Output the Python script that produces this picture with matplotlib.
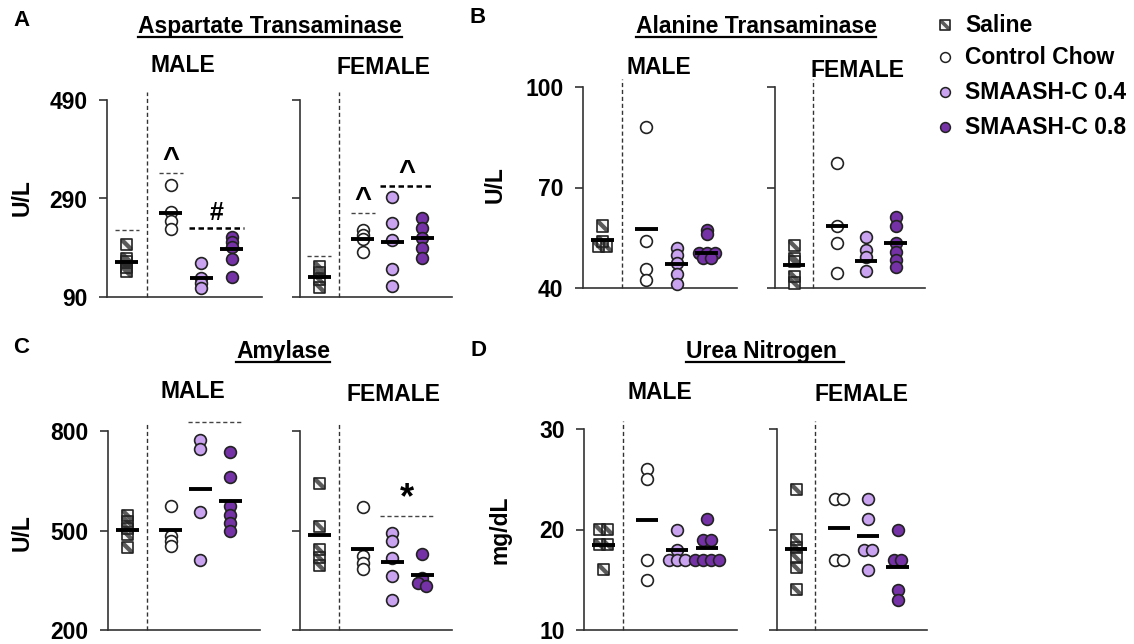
import numpy as np
import matplotlib
matplotlib.use("Agg")
import matplotlib.pyplot as plt
from matplotlib.path import Path

W, H = 1134, 644

plt.rcParams["font.family"] = ["Liberation Sans", "DejaVu Sans"]
plt.rcParams["font.weight"] = "bold"

groups = ["Saline", "Control Chow", "SMAASH-C 0.4", "SMAASH-C 0.8"]
colors = ["white", "white", "#c9a2f0", "#7432a6"]

# Aspartate Transaminase (U/L)
ast_male = [[196, 169, 161, 151, 141], [317, 262, 245, 228],
            [159, 128, 118, 108], [212, 202, 192, 167, 131]]
ast_male_mean = [161, 260, 128, 187]
ast_female = [[151, 139, 125, 110], [226, 215, 208, 182],
              [293, 240, 206, 147, 112], [250, 230, 210, 189, 169]]
ast_female_mean = [131, 208, 202, 210]

# Alanine Transaminase (U/L)
alt_male = [[58.5, 54, 52.4, 52.4], [88, 54, 45.6, 42.3],
            [52, 50, 47.4, 44.3, 41.2], [57.3, 56.2, 50.5, 50.5, 50.5, 49, 49]]
alt_male_mean = [54.2, 57.6, 47.1, 50.4]
alt_female = [[52.6, 48.9, 47.9, 43.4, 41.5], [77.4, 58.4, 53.3, 44.4],
              [55.2, 51.3, 49.3, 45.2], [61.3, 58.4, 53.3, 50.8, 48.4, 46.2]]
alt_female_mean = [46.9, 58.4, 48.1, 53.3]

# Amylase (U/L)
amy_male = [[546, 528, 507, 487, 448], [573, 483, 469, 454],
            [773, 746, 555, 412], [737, 660, 573, 546, 522, 498]]
amy_male_mean = [501, 501, 624, 588]
amy_female = [[642, 513, 442, 418, 394], [570, 424, 403, 385],
              [493, 469, 418, 364, 290], [430, 358, 343, 334]]
amy_female_mean = [487, 445, 406, 367]

# Urea Nitrogen (mg/dL)
bun_male = [[20, 20, 18.5, 18.5, 16], [26, 25, 17, 15],
            [20, 18, 17, 17, 17], [21, 19, 19, 17, 17, 17, 17]]
bun_male_mean = [18.5, 20.9, 18.0, 18.2]
bun_female = [[24, 19, 18.2, 17.2, 16.2, 14], [23, 23, 17, 17],
              [23, 21, 18, 18, 16], [20, 17, 17, 14, 13]]
bun_female_mean = [18.1, 20.1, 19.4, 16.3]

# significance bars: (first group, last group, level, symbol)
ast_male_sig = [(0, 0, 226, ""), (1, 1, 342, "^"), (2, 3, 230, "#")]
ast_female_sig = [(0, 0, 173, ""), (1, 1, 260, "^"), (2, 3, 315, "^")]
amy_male_sig = [(2, 3, 827, "")]
amy_female_sig = [(2, 3, 543, "*")]

xpos = [0.65, 2.1, 3.1, 4.1]
XMAX = 5.1

band = Path([(-1, 1), (-0.45, 1), (1, -0.45), (1, -1), (0.45, -1), (-1, 0.45), (-1, 1)],
            [Path.MOVETO] + [Path.LINETO] * 5 + [Path.CLOSEPOLY])


def saline_marker(ax, xs, ys, s=64, z=3):
    ax.scatter(xs, ys, s=s, marker="s", facecolor="#f4f4f4", edgecolor="none", zorder=z, clip_on=False)
    ax.scatter(xs, ys, s=s, marker=band, facecolor="#5a5a5a", edgecolor="none", zorder=z, clip_on=False)
    ax.scatter(xs, ys, s=s, marker="s", facecolor="none", edgecolor="#222222", linewidths=1.2,
               zorder=z, clip_on=False)


def swarm(vals, center, ppu, step=0.26):
    vals = np.asarray(vals, float)
    order = np.argsort(-vals)
    xs = np.full(len(vals), center)
    clusters = []
    for i in order:
        if clusters and abs(vals[clusters[-1][-1]] - vals[i]) * ppu < 3:
            clusters[-1].append(i)
        else:
            clusters.append([i])
    for c in clusters:
        n = len(c)
        for k, i in enumerate(c):
            xs[i] = center + (k - (n - 1) / 2) * step
    return xs


def add_ax(l, t, r, b):
    return fig.add_axes([l / W, 1 - b / H, (r - l) / W, (b - t) / H])


def draw_panel(ax, data, means, ylim, labels, sig=(), bold_span=False):
    ax.set_xlim(0, XMAX)
    ax.set_ylim(*ylim)
    ax.patch.set_visible(False)
    for s in ["top", "right"]:
        ax.spines[s].set_visible(False)
    for s in ["left", "bottom"]:
        ax.spines[s].set_color("#333333")
        ax.spines[s].set_linewidth(1.2)
    ax.set_xticks([])
    ax.set_yticks([ylim[0], (ylim[0] + ylim[1]) / 2, ylim[1]])
    ax.tick_params(axis="y", length=6, width=1.2, color="#333333", pad=8, labelsize=16.5)
    if not labels:
        ax.set_yticklabels([])
    ax.axvline(1.3, ymin=0, ymax=1.04, color="#333333", lw=1.0, ls=(0, (3, 2)), clip_on=False)
    ppu = ax.get_position().height * H / (ylim[1] - ylim[0])
    for gi, vals in enumerate(data):
        xs = swarm(vals, xpos[gi], ppu)
        if gi == 0:
            saline_marker(ax, xs, vals)
        else:
            ax.scatter(xs, vals, s=72, facecolor=colors[gi], edgecolor="#222222",
                       linewidths=1.2, zorder=3, clip_on=False)
        ax.plot([xpos[gi] - 0.38, xpos[gi] + 0.38], [means[gi]] * 2, color="black",
                lw=2.8, solid_capstyle="butt", zorder=5)
    for g0, g1, y, sym in sig:
        span = g1 > g0
        x0 = xpos[g0] - 0.4
        x1 = xpos[g1] + 0.4
        if span and bold_span:
            ax.plot([x0, x1], [y, y], color="black", lw=1.8, ls=(0, (2.2, 1.4)), clip_on=False)
        else:
            ax.plot([x0, x1], [y, y], color="#444444", lw=1.0, ls=(0, (3, 2)), clip_on=False)
        if sym:
            fs = {"*": 26, "^": 21, "#": 18}[sym]
            off = {"*": 0, "^": 0, "#": 2}[sym]
            ax.annotate(sym, ((x0 + x1) / 2, y), xytext=(0, off), textcoords="offset points",
                        ha="center", va="bottom", fontsize=fs, fontweight="bold",
                        annotation_clip=False)


fig = plt.figure(figsize=(W / 100, H / 100), dpi=100)

draw_panel(add_ax(107, 100, 262, 297), ast_male, ast_male_mean, (90, 490), True, ast_male_sig, True)
draw_panel(add_ax(300, 100, 452, 297), ast_female, ast_female_mean, (90, 490), False, ast_female_sig, True)
draw_panel(add_ax(583, 87, 737, 288), alt_male, alt_male_mean, (40, 100), True)
draw_panel(add_ax(775, 87, 925, 288), alt_female, alt_female_mean, (40, 100), False)
draw_panel(add_ax(108, 431, 260, 630), amy_male, amy_male_mean, (200, 800), True, amy_male_sig)
draw_panel(add_ax(300, 431, 452, 630), amy_female, amy_female_mean, (200, 800), False, amy_female_sig)
draw_panel(add_ax(584, 429, 737, 630), bun_male, bun_male_mean, (10, 30), True)
draw_panel(add_ax(777, 429, 927, 630), bun_female, bun_female_mean, (10, 30), False)

# overlay in pixel coordinates for the free text and the legend
ov = fig.add_axes([0, 0, 1, 1])
ov.set_xlim(0, W)
ov.set_ylim(H, 0)
ov.axis("off")

for letter, x, y in [("A", 21, 20), ("B", 478, 17), ("C", 21, 347), ("D", 478, 350)]:
    ov.text(x, y, letter, fontsize=16, ha="center", va="center")

titles = []
for name, x, y in [("Aspartate Transaminase", 270, 33), ("Alanine Transaminase", 756, 33),
                   ("Amylase", 283, 358), ("Urea Nitrogen ", 765, 358)]:
    titles.append((ov.text(x, y, name, fontsize=16.5, ha="center", va="baseline"), y))

for x, y in [(183, 65), (659, 67), (193, 391), (660, 392)]:
    ov.text(x, y, "MALE", fontsize=16.5, ha="center", va="center")
for x, y in [(384, 67), (858, 70), (394, 394), (862, 394)]:
    ov.text(x, y, "FEMALE", fontsize=16.5, ha="center", va="center")

for lab, x, y in [("U/L", 22, 198), ("U/L", 495, 185), ("U/L", 22, 533), ("mg/dL", 500, 530)]:
    ov.text(x, y, lab, fontsize=16.5, rotation=90, ha="center", va="center")

leg_y = [25, 57, 92, 127]
for gi, name in enumerate(groups):
    if gi == 0:
        saline_marker(ov, [945], [leg_y[gi]], s=44, z=6)
    else:
        ov.scatter([945], [leg_y[gi]], s=50, facecolor=colors[gi], edgecolor="#222222",
                   linewidths=1.1, zorder=6)
    ov.text(965, leg_y[gi], name, fontsize=16.5, ha="left", va="center")

renderer = fig.canvas.get_renderer()
for t, y in titles:
    bb = t.get_window_extent(renderer)
    ov.plot([bb.x0, bb.x1], [y + 4, y + 4], color="black", lw=1.6)

fig.savefig("out.png", dpi=100)
